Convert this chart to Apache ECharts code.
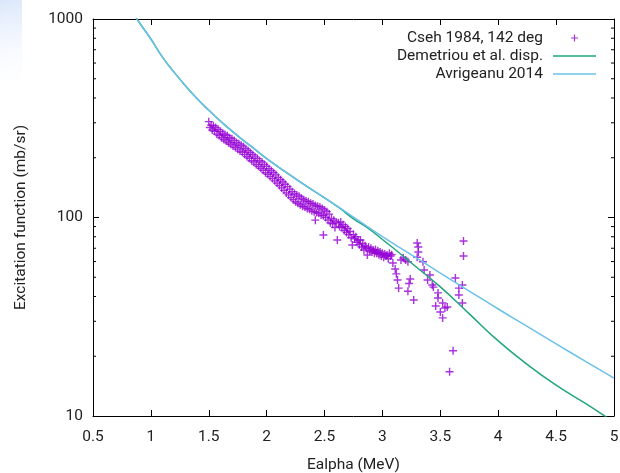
<!DOCTYPE html>
<html><head><meta charset="utf-8">
<script src="https://cdn.jsdelivr.net/npm/echarts@6/dist/echarts.min.js"></script>
<style>html,body{margin:0;padding:0;background:#fff}#c{width:620px;height:473px}</style>
</head><body><div id="c"></div>
<script>
// Cseh 1984, 142 deg  (energy MeV, excitation function mb/sr)
const csehE = [
1.50,1.51,1.52,1.53,1.54,1.55,1.56,1.57,1.58,1.59,
1.60,1.61,1.62,1.63,1.64,1.65,1.66,1.67,1.68,1.69,
1.70,1.71,1.72,1.73,1.74,1.75,1.76,1.77,1.78,1.79,
1.80,1.81,1.82,1.83,1.84,1.85,1.86,1.87,1.88,1.89,
1.90,1.91,1.92,1.93,1.94,1.95,1.96,1.97,1.98,1.99,
2.00,2.01,2.02,2.03,2.04,2.05,2.06,2.07,2.08,2.09,
2.10,2.11,2.12,2.13,2.14,2.15,2.16,2.17,2.18,2.19,
2.20,2.21,2.22,2.23,2.24,2.25,2.26,2.27,2.28,2.29,
2.30,2.31,2.32,2.33,2.34,2.35,2.36,2.37,2.38,2.39,
2.40,2.41,2.42,2.43,2.44,2.45,2.46,2.47,2.48,2.49,
2.50,2.51,2.52,2.53,2.54,2.55,2.56,2.57,2.58,2.59,
2.60,2.61,2.62,2.63,2.64,2.65,2.66,2.67,2.68,2.69,
2.70,2.71,2.72,2.73,2.74,2.75,2.76,2.77,2.78,2.79,
2.80,2.81,2.82,2.83,2.84,2.85,2.86,2.87,2.88,2.89,
2.90,2.91,2.92,2.93,2.94,2.95,2.96,2.97,2.98,2.99,
3.00,3.01,3.02,3.03,3.04,3.05,3.06,3.07,3.08,
2.49,2.42,
3.09,3.11,3.12,3.13,3.14,3.16,3.18,3.20,3.22,3.24,
3.23,3.22,3.27,3.30,3.31,3.31,3.30,3.35,3.36,3.41,
3.39,3.43,3.44,3.48,3.48,3.46,3.52,3.56,3.50,3.52,
3.54,3.63,3.66,3.66,3.69,3.69,3.70,3.70,3.61,3.58
];
const csehV = [
304,284,292,276,290,272,284,263,278,259,
272,252,266,247,262,243,258,238,252,234,
249,229,244,225,239,221,235,216,231,213,
227,208,222,203,217,199,212,193,207,190,
202,185,198,181,193,177,190,173,185,168,
181,165,176,161,172,157,168,153,164,149,
159,145,155,141,151,137,147,133,143,130,
139,126,135,123,132,120,130,118,128,116,
125,114,123,113,121,111,120,110,118,108,
117,107,115,106,114,105,113,103,111,102,
109,100,107,97,104,94,99,93,97,89,
95,77,94,90,95,89,92,86,90,84,
88,82,85,79,72.7,82,78,80,75,77,
73,77,71,74,68.6,72,70,64.7,71,68,
70,67,68.6,66,69,66,68,65,67,64,
66,63,65.5,64,64.7,62,66,64,65,
81.6,97,
59.0,55.0,52.0,48.4,44.1,61.1,62.5,61.1,59.8,49.0,
46.5,42.5,38.4,74.4,71.0,67.0,63.1,59.8,54.4,51.3,
48.4,45.7,44.6,41.7,39.3,35.8,37.1,35.4,33.4,31.2,
35.0,49.6,44.1,40.7,37.1,45.7,76.1,64.0,21.3,16.7
];
// Avrigeanu 2014
const avrE = [0.85,0.9,1.0,1.1,1.2,1.3,1.4,1.5,1.625,1.75,1.875,2.0,2.25,2.5,2.75,3.0,3.25,3.5,3.75,4.0,4.25,4.5,4.75,5.0];
const avrV = [1067,960,793,643,540,460,396,347,297,258,226,198,156.5,125.5,100.5,80.2,64.9,52.5,42.6,34.6,28.3,23.1,18.9,15.5];
// Demetriou et al. disp.
const demE = [0.85,0.9,1.0,1.1,1.2,1.3,1.4,1.5,1.625,1.75,1.875,2.0,2.25,2.5,2.625,2.75,2.875,3.0,3.125,3.25,3.5,3.75,4.0,4.25,4.5,4.75,5.0];
const demV = [1067,960,793,643,540,460,396,347,297,258,226,198,156.5,125.5,112,98.5,88.5,77.5,67.8,59.0,44.7,32.7,23.9,18.2,14.3,11.6,9.3];
// axis ticks
const yMinorTicks = [20,30,40,50,60,70,80,90,200,300,400,500,600,700,800,900];

const FONT = 'Roboto';
const FS = 15.5;
const TXT = '#222';
const PURPLE = '#9400d3';
const GREEN = '#1fa67e';
const BLUE = '#6cc1ea';
const zip = (a,b) => a.map((v,i)=>[v,b[i]]);
const plusPath = 'path://M3.3,0h1.4v3.3h3.3v1.4h-3.3v3.3h-1.4v-3.3h-3.3v-1.4h3.3z';
const plusLegend = 'path://M0,0h0.05v0.05h-0.05z M13.95,13.95h0.05v0.05h-0.05z M6.4,3.5h1.2v2.9h2.9v1.2h-2.9v2.9h-1.2v-2.9h-2.9v-1.2h2.9z';
const lineLegend = 'path://M0,0h43v1.6h-43z';

const xBase = {type:'value',min:0.5,max:5,interval:0.5,splitLine:{show:false},
  axisLine:{show:true,onZero:false,lineStyle:{color:'#000',width:1}},
  axisTick:{show:true,inside:true,length:6,lineStyle:{color:'#000'}}};
const yBase = {type:'log',logBase:10,min:10,max:1000,splitLine:{show:false},
  axisLine:{show:true,onZero:false,lineStyle:{color:'#000',width:1}},
  axisTick:{show:true,inside:true,length:6,lineStyle:{color:'#000'}}};

const chart = echarts.init(document.getElementById('c'));
chart.setOption({
  backgroundColor:'#fff',
  animation:false,
  graphic:[{type:'rect',left:0,top:0,z:-10,shape:{width:22,height:95},
    style:{fill:new echarts.graphic.LinearGradient(0,0,1,1,[{offset:0,color:'rgba(214,228,250,0.9)'},{offset:1,color:'rgba(255,255,255,0)'}])}}],
  grid:{left:93,right:6,top:19,bottom:57,containLabel:false,outerBoundsMode:'none'},
  legend:{
    orient:'vertical',right:19,top:25,align:'right',itemWidth:43,itemHeight:14,itemGap:2,
    textStyle:{fontFamily:FONT,fontSize:FS,color:TXT,lineHeight:14,padding:[0,5,0,0]},
    data:[
      {name:'Cseh 1984, 142 deg',icon:plusLegend,itemStyle:{color:PURPLE}},
      {name:'Demetriou et al. disp.',icon:lineLegend,itemStyle:{color:GREEN,borderWidth:0}},
      {name:'Avrigeanu 2014',icon:lineLegend,itemStyle:{color:BLUE,borderWidth:0}}
    ]
  },
  xAxis:[
    Object.assign({},xBase,{position:'bottom',
      axisLabel:{fontFamily:FONT,fontSize:FS,color:TXT,margin:13},
      name:'Ealpha (MeV)',nameLocation:'middle',nameGap:41,
      nameTextStyle:{fontFamily:FONT,fontSize:FS,color:TXT}}),
    Object.assign({},xBase,{position:'top',axisLabel:{show:false}})
  ],
  yAxis:[
    Object.assign({},yBase,{position:'left',
      axisLabel:{fontFamily:FONT,fontSize:FS,color:TXT,margin:10,formatter:v=>String(v)},
      name:'Excitation function (mb/sr)',nameLocation:'middle',nameGap:64,
      nameTextStyle:{fontFamily:FONT,fontSize:FS,color:TXT}}),
    Object.assign({},yBase,{position:'right',axisLabel:{show:false}})
  ],
  series:[
    {name:'Cseh 1984, 142 deg',type:'scatter',data:zip(csehE,csehV),
      symbol:plusPath,symbolSize:8,itemStyle:{color:PURPLE},z:2},
    {name:'Demetriou et al. disp.',type:'line',data:zip(demE,demV),smooth:0.5,
      symbol:'none',lineStyle:{color:GREEN,width:1.5},itemStyle:{color:GREEN},z:3},
    {name:'Avrigeanu 2014',type:'line',data:zip(avrE,avrV),smooth:0.5,
      symbol:'none',lineStyle:{color:BLUE,width:1.5},itemStyle:{color:BLUE},z:4},
    {name:'minorTicks',type:'custom',silent:true,z:5,clip:false,
      data:yMinorTicks.map(v=>[0.5,v]),
      renderItem:function(params,api){
        const l = api.coord([0.5,api.value(1)]);
        const r = api.coord([5,api.value(1)]);
        const st = {stroke:'#000',lineWidth:1};
        return {type:'group',children:[
          {type:'line',shape:{x1:l[0],y1:l[1],x2:l[0]+3,y2:l[1]},style:st},
          {type:'line',shape:{x1:r[0]-3,y1:r[1],x2:r[0],y2:r[1]},style:st}
        ]};
      }}
  ]
});
</script></body></html>
